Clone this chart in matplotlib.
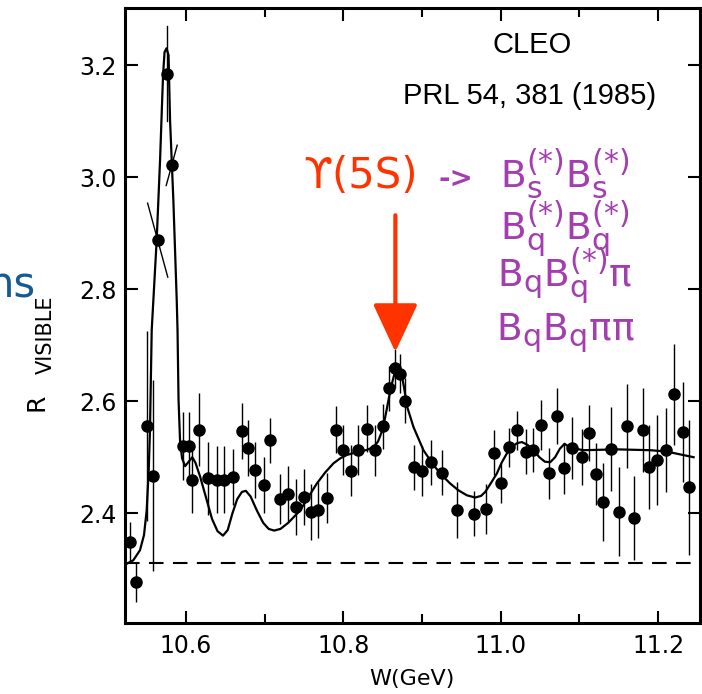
import matplotlib.pyplot as plt
import matplotlib._mathtext as mathtext
import numpy as np

plt.rcParams['font.family'] = ['DejaVu Sans']
# the slide uses sub/superscripts nearly as large as the base letters
mathtext.SHRINK_FACTOR = 0.8

# measured points: W (GeV), R_visible, error
w = [10.5288, 10.5360, 10.5508, 10.5584, 10.5966, 10.6038, 10.6072, 10.6169,
     10.6284, 10.6390, 10.6483, 10.6594, 10.6708, 10.6782, 10.6877, 10.6988,
     10.7068, 10.7195, 10.7293, 10.7402, 10.7503, 10.7583, 10.7682, 10.7793,
     10.7911, 10.7996, 10.8100, 10.8187, 10.8298, 10.8397, 10.8501, 10.8581,
     10.8657, 10.8721, 10.8785, 10.8895, 10.8997, 10.9111, 10.9251, 10.9446,
     10.9662, 10.9814, 10.9912, 11.0008, 11.0104, 11.0205, 11.0323, 11.0408,
     11.0505, 11.0613, 11.0713, 11.0802, 11.0911, 11.1031, 11.1115, 11.1207,
     11.1298, 11.1397, 11.1497, 11.1598, 11.1696, 11.1811, 11.1884, 11.1989,
     11.2103, 11.2196, 11.2309, 11.2387]
r = [2.348, 2.277, 2.556, 2.467, 2.520, 2.520, 2.460, 2.549,
     2.462, 2.460, 2.460, 2.465, 2.547, 2.516, 2.477, 2.451,
     2.530, 2.425, 2.435, 2.411, 2.429, 2.403, 2.406, 2.427,
     2.549, 2.513, 2.476, 2.513, 2.551, 2.512, 2.555, 2.623,
     2.659, 2.649, 2.601, 2.482, 2.475, 2.491, 2.472, 2.405,
     2.399, 2.408, 2.508, 2.454, 2.518, 2.548, 2.510, 2.513,
     2.557, 2.471, 2.573, 2.480, 2.516, 2.501, 2.543, 2.470,
     2.420, 2.515, 2.403, 2.556, 2.391, 2.549, 2.482, 2.495,
     2.513, 2.612, 2.545, 2.446]
err = [0.037, 0.036, 0.17, 0.17, 0.06, 0.06, 0.06, 0.065,
       0.065, 0.06, 0.06, 0.05, 0.05, 0.05, 0.05, 0.05,
       0.04, 0.045, 0.05, 0.05, 0.05, 0.05, 0.05, 0.045,
       0.042, 0.045, 0.045, 0.045, 0.042, 0.045, 0.04, 0.04,
       0.035, 0.035, 0.04, 0.04, 0.045, 0.04, 0.04, 0.05,
       0.04, 0.045, 0.04, 0.035, 0.035, 0.035, 0.04, 0.04,
       0.045, 0.045, 0.05, 0.045, 0.055, 0.05, 0.05, 0.055,
       0.07, 0.075, 0.08, 0.075, 0.075, 0.075, 0.075, 0.08,
       0.075, 0.09, 0.09, 0.12]

# points on the narrow peak, error drawn along a tilted line
tilt_w = [10.5640, 10.5754, 10.5818]
tilt_r = [2.8875, 3.185, 3.021]
tilt_dw = [0.0128, 0.0, 0.007]
tilt_dr = [-0.066, 0.085, 0.036]

# fit curve
fit_w = [10.525, 10.533, 10.5415, 10.5466, 10.550, 10.5526, 10.5542, 10.5564,
         10.5627, 10.567, 10.5708, 10.5727, 10.5752, 10.5778, 10.5797, 10.5839,
         10.5882, 10.5892, 10.5905, 10.5924, 10.5950, 10.5988, 10.6040, 10.6080,
         10.6120, 10.6180, 10.6250, 10.6330, 10.6400, 10.6470, 10.6530, 10.6590,
         10.6650, 10.6710, 10.6760, 10.6820, 10.6900, 10.6980, 10.7050, 10.7120,
         10.7200, 10.7300, 10.7450, 10.7560, 10.7662, 10.7770, 10.7873, 10.7960,
         10.8043, 10.8170, 10.8298, 10.8380, 10.8440, 10.8500, 10.8550, 10.8600,
         10.8650, 10.8690, 10.8730, 10.8770, 10.8810, 10.8890, 10.9017, 10.9144,
         10.9250, 10.9357, 10.9460, 10.9569, 10.9675, 10.9750, 10.9802, 10.9880,
         10.9950, 11.0010, 11.0078, 11.0140, 11.0205, 11.0268, 11.0340, 11.0416,
         11.0490, 11.0560, 11.0628, 11.0690, 11.0750, 11.0810, 11.0880, 11.1050,
         11.1480, 11.1900, 11.2110, 11.2450]
fit_r = [2.310, 2.316, 2.334, 2.361, 2.405, 2.477, 2.548, 2.727,
         2.8875, 3.030, 3.182, 3.223, 3.230, 3.218, 3.102, 2.959,
         2.780, 2.727, 2.602, 2.530, 2.498, 2.484, 2.493, 2.500,
         2.490, 2.465, 2.430, 2.390, 2.368, 2.360, 2.370, 2.400,
         2.425, 2.438, 2.440, 2.430, 2.405, 2.383, 2.372, 2.369,
         2.372, 2.383, 2.405, 2.430, 2.453, 2.473, 2.489, 2.498,
         2.504, 2.509, 2.513, 2.518, 2.528, 2.550, 2.585, 2.622,
         2.650, 2.662, 2.655, 2.625, 2.590, 2.554, 2.5125, 2.486,
         2.468, 2.453, 2.441, 2.432, 2.428, 2.431, 2.438, 2.455,
         2.471, 2.490, 2.507, 2.518, 2.525, 2.527, 2.522, 2.5125,
         2.500, 2.492, 2.491, 2.500, 2.515, 2.524, 2.517, 2.5125,
         2.514, 2.5125, 2.510, 2.500]

continuum = 2.311
decays = [r'$\mathrm{B_s^{(*)}B_s^{(*)}}$', r'$\mathrm{B_q^{(*)}B_q^{(*)}}$',
          r'$\mathrm{B_qB_q^{(*)}}$π', r'$\mathrm{B_qB_q}$ππ']

red = '#ff3300'
purple = '#a43db0'

fig = plt.figure(figsize=(7.02, 6.94), dpi=100)
ax = fig.add_axes([0.178, 0.1023, 0.819, 0.8862])

ax.plot(fit_w, fit_r, color='black', lw=1.6)
ax.errorbar(w, r, yerr=err, fmt='o', color='black', ms=8, elinewidth=1.0, capsize=0)
for x0, y0, dx, dy in zip(tilt_w, tilt_r, tilt_dw, tilt_dr):
    ax.plot([x0 - dx, x0 + dx], [y0 - dy, y0 + dy], color='black', lw=1.0)
ax.plot(tilt_w, tilt_r, 'o', color='black', ms=8)
ax.axhline(continuum, color='black', lw=1.5, dashes=(7, 4.5))

ax.set_xlim(10.5224, 11.253)
ax.set_ylim(2.204, 3.302)
ax.set_xticks([10.6, 10.8, 11.0, 11.2])
ax.set_xticklabels(['10.6', '10.8', '11.0', '11.2'])
ax.set_xticks([10.7, 10.9, 11.1], minor=True)
ax.set_yticks([2.4, 2.6, 2.8, 3.0, 3.2])
ax.tick_params(which='both', direction='in', top=True, right=True, labelsize=17, width=1.5)
ax.tick_params(which='major', length=9)
ax.tick_params(which='minor', length=6.5)
ax.tick_params(axis='x', pad=8)
ax.tick_params(axis='y', pad=6)
for s in ax.spines.values():
    s.set_linewidth(2.2)

ax.set_xlabel('W(GeV)', fontsize=16, labelpad=8)
fig.text(37 / 702, 1 - 402 / 694, 'R', rotation=90, ha='center', va='center', fontsize=18)
fig.text(46 / 702, 1 - 335 / 694, 'VISIBLE', rotation=90, ha='center', va='center', fontsize=15)
fig.text(35 / 702, 1 - 297 / 694, 'ns', ha='right', va='baseline', fontsize=30, color='#145a96')

ax.text(0.708, 0.940, 'CLEO', transform=ax.transAxes, ha='center', va='center',
        fontsize=21, family='Liberation Sans')
ax.text(0.704, 0.857, 'PRL 54, 381 (1985)', transform=ax.transAxes, ha='center', va='center',
        fontsize=21, family='Liberation Sans')
ax.text(0.409, 0.707, '\u03d2(5S)', transform=ax.transAxes, ha='center', va='baseline',
        fontsize=30, color=red)
ax.annotate('', xy=(10.866, 2.688), xytext=(10.866, 2.932),
            arrowprops=dict(arrowstyle='-|>,head_length=0.75,head_width=0.35', color=red,
                            lw=3, mutation_scale=40, shrinkA=0, shrinkB=0))
ax.text(0.576, 0.709, '->', transform=ax.transAxes, ha='center', va='baseline',
        fontsize=20, color=purple, fontweight='bold')
for txt, yy in zip(decays, [0.709, 0.623, 0.546, 0.460]):
    ax.text(0.765, yy, txt, transform=ax.transAxes, ha='center', va='baseline',
            fontsize=27, color=purple)

fig.savefig('out.png', dpi=100)
